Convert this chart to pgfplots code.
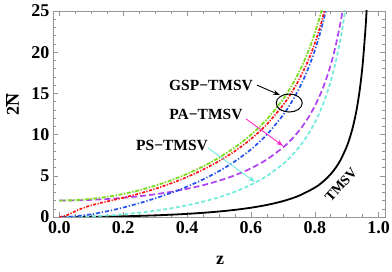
\documentclass[border=0pt]{standalone}
\usepackage{fontspec}
\setmainfont{Liberation Serif}
\usepackage{pgfplots}
\pgfplotsset{compat=1.18}
\usetikzlibrary{arrows.meta}
\definecolor{cgreen}{RGB}{125,220,30}
\definecolor{cred}{RGB}{255,20,20}
\definecolor{cblue}{RGB}{35,80,240}
\definecolor{cpurple}{RGB}{175,65,240}
\definecolor{ccyan}{RGB}{110,235,220}
\definecolor{cmag}{RGB}{255,40,200}
\definecolor{cframe}{RGB}{150,150,150}
\newcommand{\tl}{\bfseries\fontsize{18}{18}\selectfont}
\begin{document}
\begin{tikzpicture}
\begin{axis}[
 width=332pt, height=206pt, scale only axis,
 xmin=-0.02, xmax=1.02, ymin=0, ymax=25,
 xtick={0,0.2,0.4,0.6,0.8,1},
 xticklabels={{\tl 0.0},{\tl 0.2},{\tl 0.4},{\tl 0.6},{\tl 0.8},{\tl 1.0}},
 ytick={0,5,10,15,20,25},
 yticklabels={{\tl 0},{\tl 5},{\tl 10},{\tl 15},{\tl 20},{\tl 25}},
 minor x tick num=3, minor y tick num=4,
 tick align=inside,
 major tick length=5pt, minor tick length=3pt,
 axis line style={cframe},
 every tick/.style={cframe, line width=0.5pt},
 ticklabel style={black},
 xticklabel style={yshift=-1.5pt},
 every axis x label/.style={at={(axis description cs:0.503,-0.209)}, anchor=center, font=\tl},
 every axis y label/.style={at={(axis description cs:-0.1235,0.544)}, rotate=90, anchor=center, font=\tl},
 xlabel={z}, ylabel={2$\overline{\hbox{\tl N}}$},
]
% TMSV
\addplot[black, line width=1.8pt, smooth] coordinates {
(0,0) (0.05,0.005) (0.1,0.0202) (0.15,0.046) (0.2,0.0833) (0.25,0.1333) (0.3,0.1978) (0.35,0.2792) (0.4,0.381) (0.45,0.5078) (0.5,0.6667) (0.55,0.8674) (0.6,1.125) (0.65,1.463) (0.7,1.922) (0.75,2.571) (0.8,3.556) (0.82,4.105) (0.84,4.793) (0.86,5.68) (0.88,6.865) (0.9,8.526) (0.91,9.635) (0.92,11.02) (0.93,12.80) (0.94,15.18) (0.95,18.51) (0.96,23.51) (0.965,27.08)};
% PS-TMSV
\addplot[ccyan, line width=1.7pt, dash pattern=on 4pt off 2.5pt, smooth] coordinates {
(0,0) (0.05,0.020) (0.1,0.080) (0.15,0.182) (0.2,0.327) (0.25,0.517) (0.3,0.759) (0.35,1.056) (0.4,1.419) (0.45,1.860) (0.5,2.4) (0.55,3.067) (0.6,3.904) (0.65,4.984) (0.7,6.422) (0.72,7.141) (0.74,7.970) (0.76,8.937) (0.78,10.08) (0.8,11.447) (0.82,13.12) (0.84,15.21) (0.86,17.89) (0.88,21.47) (0.89,23.74) (0.9,26.47)};
% PA-TMSV
\addplot[cpurple, line width=1.7pt, dash pattern=on 6pt off 3pt, smooth] coordinates {
(0,2) (0.05,2.020) (0.1,2.080) (0.15,2.182) (0.2,2.327) (0.25,2.517) (0.3,2.759) (0.35,3.056) (0.4,3.419) (0.45,3.860) (0.5,4.4) (0.55,5.067) (0.6,5.904) (0.65,6.984) (0.7,8.422) (0.72,9.141) (0.74,9.970) (0.76,10.937) (0.78,12.08) (0.8,13.447) (0.82,15.12) (0.84,17.21) (0.86,19.89) (0.88,23.47) (0.89,25.74) (0.9,28.47)};
% GSP blue
\addplot[cblue, line width=1.7pt, dash pattern=on 4pt off 2pt on 1.2pt off 2pt, smooth] coordinates {
(0,0) (0.025,0.022) (0.05,0.087) (0.1,0.331) (0.15,0.695) (0.2,1.147) (0.25,1.670) (0.3,2.262) (0.35,2.929) (0.4,3.687) (0.45,4.555) (0.5,5.563) (0.55,6.756) (0.6,8.199) (0.65,9.998) (0.7,12.33) (0.72,13.48) (0.74,14.79) (0.76,16.30) (0.78,18.08) (0.8,20.20) (0.82,22.77) (0.84,25.96) (0.86,30.05)};
% GSP red
\addplot[cred, line width=1.7pt, dash pattern=on 3pt off 1.5pt on 1.2pt off 1.5pt, smooth] coordinates {
(0,0) (0.025,0.242) (0.05,0.704) (0.075,1.106) (0.1,1.414) (0.125,1.665) (0.15,1.892) (0.2,2.341) (0.25,2.84) (0.3,3.415) (0.35,4.082) (0.4,4.855) (0.45,5.748) (0.5,6.785) (0.55,8.003) (0.6,9.459) (0.65,11.25) (0.7,13.54) (0.72,14.65) (0.74,15.91) (0.76,17.37) (0.78,19.06) (0.8,21.07) (0.82,23.5) (0.84,26.51)};
% GSP green
\addplot[cgreen, line width=1.8pt, dash pattern=on 4pt off 1.5pt on 1.5pt off 1.5pt, smooth] coordinates {
(0,2) (0.05,2.05) (0.1,2.20) (0.15,2.449) (0.2,2.798) (0.25,3.247) (0.3,3.798) (0.35,4.457) (0.4,5.232) (0.45,6.138) (0.5,7.2) (0.55,8.458) (0.6,9.974) (0.65,11.85) (0.7,14.26) (0.72,15.44) (0.74,16.79) (0.76,18.33) (0.78,20.14) (0.8,22.29) (0.82,24.89) (0.84,28.12)};
% annotations
\node[font=\bfseries\fontsize{15.5}{16}\selectfont] at (axis cs:0.475,16.0) {GSP−TMSV};
\draw[-{Stealth[length=7pt,width=5pt]}, line width=0.9pt] (axis cs:0.619,16.0) -- (axis cs:0.691,14.8);
\draw[line width=1pt] (axis cs:0.72,13.83) ellipse [x radius=13pt, y radius=9pt];
\node[font=\bfseries\fontsize{15.5}{16}\selectfont] at (axis cs:0.459,12.38) {PA−TMSV};
\draw[cmag, -{Stealth[length=7pt,width=5pt]}, line width=0.9pt] (axis cs:0.585,11.9) -- (axis cs:0.701,8.62);
\node[font=\bfseries\fontsize{15.5}{16}\selectfont] at (axis cs:0.353,8.62) {PS−TMSV};
\draw[ccyan, -{Stealth[length=7pt,width=5pt]}, line width=0.9pt] (axis cs:0.466,8.37) -- (axis cs:0.613,4.25);
\node[font=\bfseries\fontsize{14}{14}\selectfont, rotate=48, inner sep=1pt] at (axis cs:0.882,3.9) {TMSV};
\end{axis}
\pgfresetboundingbox
\path[use as bounding box] ([xshift=-53pt,yshift=-55pt]current axis.south west) rectangle ([xshift=7pt,yshift=11pt]current axis.north east);
\end{tikzpicture}
\end{document}
